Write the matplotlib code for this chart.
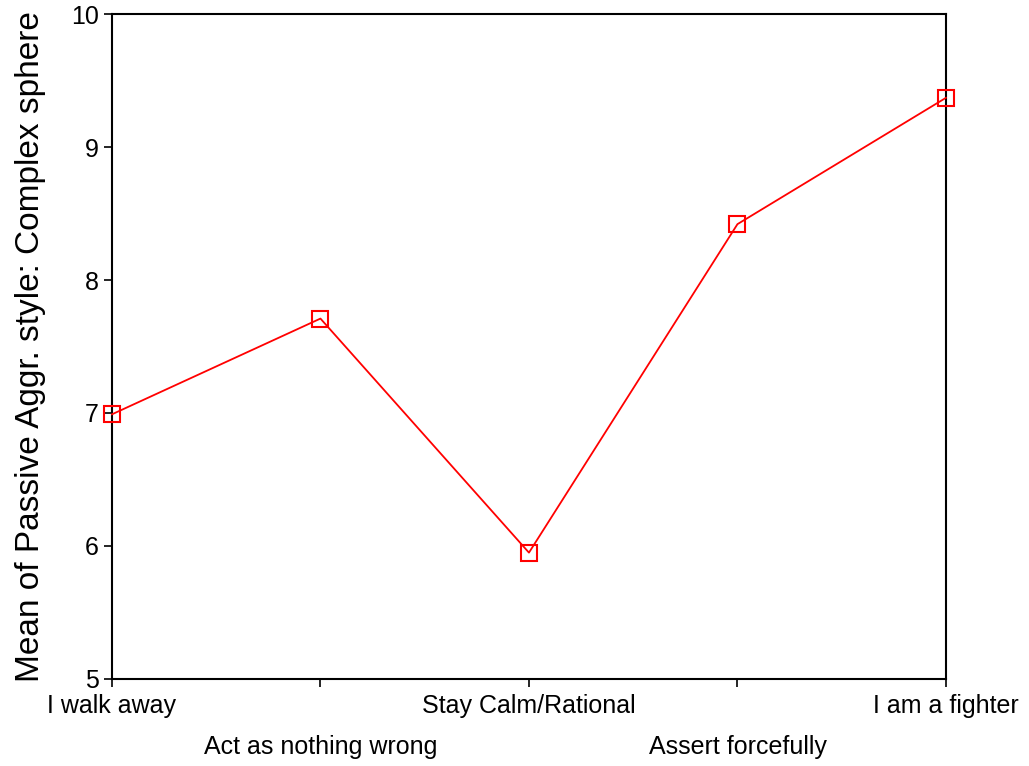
import matplotlib
matplotlib.use('Agg')
import matplotlib.pyplot as plt

plt.rcParams['font.family'] = ['Liberation Sans', 'DejaVu Sans']

categories = ['I walk away', 'Act as nothing wrong', 'Stay Calm/Rational',
              'Assert forcefully', 'I am a fighter']
means = [6.99, 7.71, 5.95, 8.42, 9.37]
yticks = [5, 6, 7, 8, 9, 10]

fig = plt.figure(figsize=(10.29, 7.66), dpi=100)
ax = fig.add_axes([0.1088, 0.1136, 0.8105, 0.8681])

x = list(range(len(categories)))
ax.plot(x, means, color='red', linewidth=1.3, marker='s', markersize=11,
        markerfacecolor='none', markeredgecolor='red', markeredgewidth=1.5,
        clip_on=False, zorder=3)

ax.set_xlim(0, len(categories) - 1)
ax.set_ylim(5, 10)
ax.set_yticks(yticks)
ax.set_xticks(x)
# alternate labels: odd ones pushed down a row
labels = [c if i % 2 == 0 else '\n' + c for i, c in enumerate(categories)]
ax.set_xticklabels(labels, linespacing=1.9)
ax.tick_params(axis='both', direction='out', length=6, width=1.2,
               labelsize=18, color='black')
ax.tick_params(axis='x', pad=5)
for s in ax.spines.values():
    s.set_linewidth(1.5)
ax.set_ylabel('Mean of Passive Aggr. style: Complex sphere', fontsize=24,
              labelpad=18)

fig.savefig('out.png', dpi=100)
